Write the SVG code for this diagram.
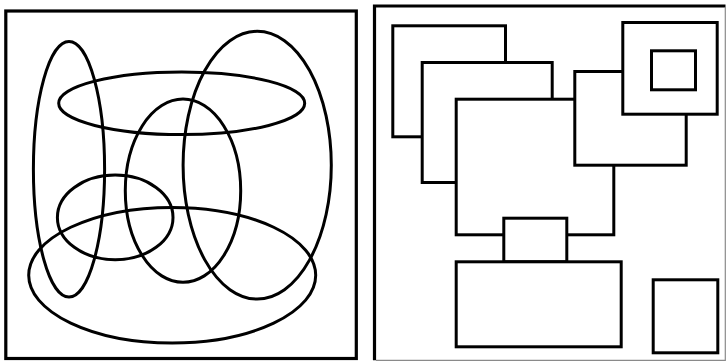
<svg xmlns="http://www.w3.org/2000/svg" width="728" height="362" viewBox="0 0 728 362">
  <style>
    .frame { fill: #ffffff; stroke: #000000; stroke-width: 3.2; }
    .thin { fill: none; stroke: #8a8a8a; stroke-width: 1.2; }
    .ell { fill: none; stroke: #000000; stroke-width: 3; }
    .box { fill: #ffffff; stroke: #000000; stroke-width: 3; }
  </style>
  <rect width="728" height="362" fill="#ffffff"/>
  <g id="left-panel">
    <rect class="frame" x="5.8" y="11" width="350.5" height="347.5"/>
    <ellipse id="e1" class="ell" cx="69" cy="169.3" rx="35.6" ry="127.8"/>
    <ellipse id="e2" class="ell" cx="181.7" cy="103.3" rx="123" ry="31.3"/>
    <ellipse id="e3" class="ell" cx="257.2" cy="165.2" rx="74.1" ry="133.9"/>
    <ellipse id="e4" class="ell" cx="183" cy="190.7" rx="57.7" ry="91.6"/>
    <ellipse id="e5" class="ell" cx="115.2" cy="217.4" rx="57.8" ry="42.3"/>
    <ellipse id="e6" class="ell" cx="172.2" cy="275.2" rx="143.5" ry="67.8"/>
  </g>
  <g id="right-panel">
    <path class="frame" d="M374.5,360.3 V6 H725.5"/>
    <path class="thin" d="M725.3,7 V360.3 H376"/>
    <rect id="rA" class="box" x="392.8" y="25.8" width="112.7" height="111"/>
    <rect id="rB" class="box" x="422.2" y="62.5" width="130" height="120"/>
    <rect id="rC" class="box" x="456.2" y="99.2" width="157.6" height="135.6"/>
    <rect id="rD" class="box" x="574.8" y="71.5" width="111.4" height="93.7"/>
    <rect id="rE" class="box" x="622.8" y="22.5" width="94.4" height="91.7"/>
    <rect id="rF" class="box" x="651.5" y="50.8" width="44" height="39"/>
    <rect id="rG" class="box" x="503.8" y="218.2" width="63" height="43.6"/>
    <rect id="rH" class="box" x="456.2" y="261.8" width="165" height="85"/>
    <rect id="rI" class="box" x="653.2" y="279.8" width="64.6" height="73"/>
  </g>
</svg>
